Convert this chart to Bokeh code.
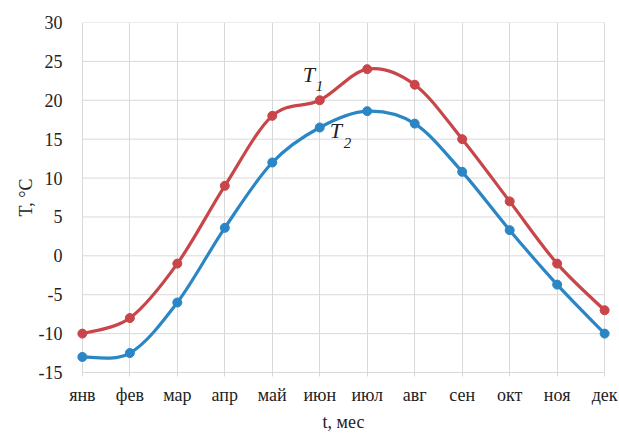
from bokeh.plotting import figure
from bokeh.models import Label, FixedTicker, Range1d
from bokeh.embed import file_html
from bokeh.resources import INLINE

months = ["янв", "фев", "мар", "апр", "май", "июн", "июл", "авг", "сен", "окт", "ноя", "дек"]
t1 = [-10, -8, -1, 9, 18, 20, 24, 22, 15, 7, -1, -7]
t2 = [-13, -12.5, -6, 3.6, 12, 16.5, 18.6, 17, 10.8, 3.3, -3.7, -10]
y_ticks = [-15, -10, -5, 0, 5, 10, 15, 20, 25, 30]

RED = "#C8464A"
BLUE = "#2A86C4"
GRID = "#D9D9D9"
TXT = "#222222"
FONT = "Liberation Serif"

xs = list(range(len(months)))
pad = 0.25

p = figure(width=619, height=436, output_backend="svg", toolbar_location=None,
           x_range=Range1d(xs[0] - pad, xs[-1] + pad), y_range=Range1d(y_ticks[0], y_ticks[-1]),
           min_border_left=70, min_border_right=3, min_border_top=22, min_border_bottom=64)
p.outline_line_color = None
p.background_fill_color = "white"

# axes
p.xaxis.ticker = FixedTicker(ticks=xs)
p.xaxis.major_label_overrides = {i: m for i, m in enumerate(months)}
p.yaxis.ticker = FixedTicker(ticks=y_ticks)
p.yaxis.major_label_overrides = {v: str(v) for v in y_ticks}
p.axis.major_label_text_font = FONT
p.axis.major_label_text_font_size = "18px"
p.axis.major_label_text_color = TXT
p.axis.minor_tick_line_color = None
p.axis.axis_label_text_font = FONT
p.axis.axis_label_text_font_size = "18px"
p.axis.axis_label_text_font_style = "normal"
p.axis.axis_label_text_color = TXT
p.xaxis.axis_label = "t, мес"
p.yaxis.axis_label = "T, °C"
p.xaxis.axis_label_standoff = 4
p.yaxis.axis_label_standoff = 0
p.xaxis.bounds = (xs[0], xs[-1])
p.xaxis.axis_line_color = GRID
p.xaxis.major_tick_line_color = GRID
p.xaxis.major_tick_out = 4
p.xaxis.major_tick_in = 0
p.xaxis.major_label_standoff = 8
p.yaxis.axis_line_color = None
p.yaxis.major_tick_line_color = None
p.yaxis.major_tick_out = 0
p.yaxis.major_label_standoff = 8
p.xgrid.grid_line_color = GRID
p.ygrid.grid_line_color = None

# horizontal grid lines spanning only янв..дек
p.segment(x0=[xs[0]] * len(y_ticks), x1=[xs[-1]] * len(y_ticks), y0=y_ticks, y1=y_ticks,
          line_color=GRID, line_width=1)


def smooth(xv, yv, tension=1.0 / 6.0):
    n = len(xv)
    out = dict(x0=[], y0=[], x1=[], y1=[], cx0=[], cy0=[], cx1=[], cy1=[])
    for i in range(n - 1):
        ip = max(i - 1, 0)
        inn = min(i + 2, n - 1)
        out["x0"].append(xv[i]); out["y0"].append(yv[i])
        out["x1"].append(xv[i + 1]); out["y1"].append(yv[i + 1])
        out["cx0"].append(xv[i] + (xv[i + 1] - xv[ip]) * tension)
        out["cy0"].append(yv[i] + (yv[i + 1] - yv[ip]) * tension)
        out["cx1"].append(xv[i + 1] - (xv[inn] - xv[i]) * tension)
        out["cy1"].append(yv[i + 1] - (yv[inn] - yv[i]) * tension)
    return out


for ys, col in ((t1, RED), (t2, BLUE)):
    b = smooth(xs, ys)
    p.bezier(line_color=col, line_width=3.2, **b)
    p.scatter(xs, ys, size=9, color=col)

# series labels near the июн points
jun = 5
p.add_layout(Label(x=jun, y=t1[jun], x_offset=-17, y_offset=13, text="T",
                   text_font=FONT, text_font_style="italic", text_font_size="22px", text_color=TXT))
p.add_layout(Label(x=jun, y=t1[jun], x_offset=-4, y_offset=9, text="1",
                   text_font=FONT, text_font_style="italic", text_font_size="15px", text_color=TXT))
p.add_layout(Label(x=jun, y=t2[jun], x_offset=10, y_offset=-15, text="T",
                   text_font=FONT, text_font_style="italic", text_font_size="22px", text_color=TXT))
p.add_layout(Label(x=jun, y=t2[jun], x_offset=24, y_offset=-20, text="2",
                   text_font=FONT, text_font_style="italic", text_font_size="15px", text_color=TXT))

open("out.html", "w").write(file_html(p, INLINE))
